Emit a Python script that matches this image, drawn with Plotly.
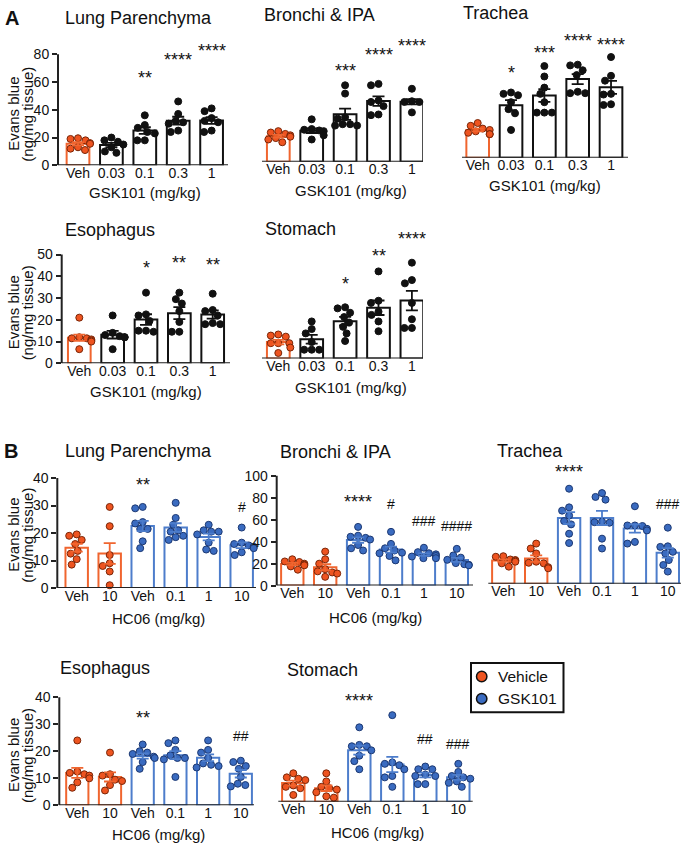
import numpy as np
import plotly.graph_objects as go

PAGE_W, PAGE_H = 685, 852
OFF = 0                      # body margin removed via post_script
W, H = PAGE_W - 2 * OFF, PAGE_H - 2 * OFF
LABEL_LIFT = 2.5             # px: lift category labels closer to the baseline

# ---------------- data ----------------
cats_A = ['Veh', '0.03', '0.1', '0.3', '1']
cats_B = ['Veh', '10', 'Veh', '0.1', '1', '10']
groups_A = ['Vehicle', 'GSK101', 'GSK101', 'GSK101', 'GSK101']
groups_B = ['Vehicle', 'Vehicle', 'GSK101', 'GSK101', 'GSK101', 'GSK101']

A_lung = [[19.5, 19, 18, 16, 15.5, 13, 12, 11],
          [20, 18, 17, 15, 13, 10, 9],
          [36, 29, 27, 24, 23, 18, 18],
          [46, 37, 32, 31, 30, 25, 24],
          [41, 39, 34, 32, 31, 25, 24]]
A_bronchi = [[22, 21, 20, 19, 18, 17, 16, 14],
             [30.5, 23.5, 23, 22.5, 22, 19, 16],
             [55, 49, 32, 31, 27, 26, 26, 27],
             [55, 56, 44, 43, 40, 34, 33.5],
             [52.5, 43.5, 43, 43, 42.5, 42, 35.5]]
A_trachea = [[25, 23, 21, 20, 19, 18, 17, 17],
             [47, 46, 45, 40, 35, 32, 20],
             [66, 58.5, 50.5, 46, 40, 32.5, 32.5, 32.5],
             [67, 66.5, 63, 59.5, 47.5, 46.5, 46.5],
             [72.5, 59, 55.5, 46, 45.5, 38.5, 38]]
A_esophagus = [[21, 12, 11.5, 11.5, 11, 10.5, 10, 6.5],
               [22, 14, 13, 12.5, 12, 12, 6.5],
               [32.5, 22.5, 22, 19.5, 15, 14.5, 15],
               [32.5, 29.5, 27.5, 24, 19, 14.5, 14.5],
               [32, 24.5, 24, 22, 18, 18.5, 18]]
A_stomach = [[10.5, 11, 10, 7, 7, 7, 5, 2.5],
             [17, 13.5, 11.5, 7.5, 4, 4, 4],
             [23.5, 23, 21, 19, 16.5, 14.5, 11.5, 8],
             [40, 26.5, 25.5, 21.5, 20, 17, 12.5],
             [44, 36, 34.5, 25.5, 18, 14, 14]]

B_lung = [[19.5, 19, 17.5, 16, 13.5, 12.5, 10.5, 8.5],
          [29.5, 22.5, 12, 9, 8, 6, 1],
          [29.5, 29, 24, 23.5, 21.5, 21.5, 17, 14.5],
          [31, 25.5, 23, 21, 20.5, 19, 18.5, 17.5],
          [23, 21, 20.5, 20.5, 19.5, 16.5, 14, 13.5],
          [22, 16.5, 16, 15.5, 15, 14.5, 13, 12]]
B_bronchi = [[24, 22, 21.5, 20, 19, 18.5, 17.5, 14.5],
             [31, 24, 20, 15, 13, 12, 11, 8],
             [53.5, 45.5, 44.5, 43.5, 42, 37, 34, 32],
             [49, 38, 34, 32, 30, 29.5, 27, 23],
             [34.5, 30.5, 29.5, 28.5, 27, 26.5, 25, 25],
             [33.5, 27.5, 25.5, 23.5, 20.5, 19.5, 19, 18.5]]
B_trachea = [[25, 24.5, 22, 21.5, 21, 20, 18.5, 15.5],
             [36.5, 32, 27.5, 20, 19, 18.5, 15, 14],
             [86.5, 69.5, 66.5, 62, 57, 54, 45.5, 37],
             [82.5, 79, 76.5, 56.5, 56, 55.5, 41, 32],
             [70.5, 53, 53, 52.5, 50, 48.5, 38, 36.5],
             [51, 34, 33.5, 29, 27.5, 21.5, 17, 11]]
B_esophagus = [[24, 12.5, 12, 11.5, 11, 10, 8.5, 6.5],
               [19.5, 11.5, 11, 9.5, 9, 7.5, 5.5],
               [22.5, 20, 19.5, 19, 18, 17.5, 16, 13.5],
               [24, 23, 20.5, 18.5, 17.5, 17.5, 17, 10.5],
               [24, 20.5, 19.5, 17.5, 15.5, 15, 14.5, 14],
               [16.5, 16, 14.5, 13.5, 10.5, 8, 7.5, 7]]
B_stomach = [[10.5, 9, 8.5, 8, 6, 5.5, 5, 2.5],
             [10.5, 7.5, 5.5, 5, 4.5, 3.5, 2, 1.5],
             [27.5, 21, 20.5, 20.5, 19, 17, 15, 12],
             [32, 14.5, 14, 13.5, 12, 9.5, 9, 5.5],
             [13, 12, 12, 10, 9.5, 9.5, 6.5, 6.5],
             [14, 11, 9.5, 9, 8.5, 7.5, 7, 5.5]]

# significance labels
sig_A_lung = ['', '', '**', '****', '****']
sig_A_bronchi = ['', '', '***', '****', '****']
sig_A_trachea = ['', '*', '***', '****', '****']
sig_A_esophagus = ['', '', '*', '**', '**']
sig_A_stomach = ['', '', '*', '**', '****']
sig_B_lung = ['', '', '**', '', '', '#']
sig_B_bronchi = ['', '', '****', '#', '###', '####']
sig_B_trachea = ['', '', '****', '', '', '###']
sig_B_esophagus = ['', '', '**', '', '', '##']
sig_B_stomach = ['', '', '****', '', '##', '###']

legend_names = ['Vehicle', 'GSK101']
ytitle_lines = ['Evans blue', '(ng/mg tissue)']

# ---------------- layout config (pixel geometry on the page) ----------------
panels = [
    dict(set='A', data=A_lung, cats=cats_A, groups=groups_A, sig=sig_A_lung,
         sig_y=[0, 0, 66, 79, 85], title='Lung Parenchyma', tpos=(138, 12),
         xtitle='GSK101 (mg/kg)', xtpos=(145, 190),
         xa=58, xb=228, c0=78, s=33.4, yb=162, k=113 / 80, top=90,
         yticks=[0, 20, 40, 60, 80]),
    dict(set='A', data=A_bronchi, cats=cats_A, groups=groups_A, sig=sig_A_bronchi,
         sig_y=[0, 0, 68, 80, 86], title='Bronchi & IPA', tpos=(319, 9),
         xtitle='GSK101 (mg/kg)', xtpos=(351, 188),
         xa=262, xb=423, c0=278.3, s=33.4, yb=158.3, k=113 / 80, top=90,
         yticks=None),
    dict(set='A', data=A_trachea, cats=cats_A, groups=groups_A, sig=sig_A_trachea,
         sig_y=[0, 64, 78, 87, 84], title='Trachea', tpos=(496, 7),
         xtitle='GSK101 (mg/kg)', xtpos=(545, 183),
         xa=462, xb=628, c0=477.7, s=33.33, yb=154.3, k=113 / 80, top=92,
         yticks=None),
    dict(set='A', data=A_esophagus, cats=cats_A, groups=groups_A, sig=sig_A_esophagus,
         sig_y=[0, 0, 45.5, 48, 47], title='Esophagus', tpos=(110, 228),
         xtitle='GSK101 (mg/kg)', xtpos=(146, 392),
         xa=61.7, xb=230, c0=79.3, s=33.35, yb=363.3, k=110.6 / 50, top=52,
         yticks=[0, 10, 20, 30, 40, 50]),
    dict(set='A', data=A_stomach, cats=cats_A, groups=groups_A, sig=sig_A_stomach,
         sig_y=[0, 0, 36, 49, 56.5], title='Stomach', tpos=(300, 227),
         xtitle='GSK101 (mg/kg)', xtpos=(351, 388),
         xa=262, xb=423, c0=278.3, s=33.4, yb=358.3, k=110.6 / 50, top=60,
         yticks=None),
    dict(set='B', data=B_lung, cats=cats_B, groups=groups_B, sig=sig_B_lung,
         sig_y=[0, 0, 38.8, 0, 0, 29.3], title='Lung Parenchyma', tpos=(138, 452),
         xtitle='HC06 (mg/kg)', xtpos=(158, 623),
         xa=57.3, xb=256, c0=76.7, s=33, yb=591.7, k=111.7 / 40, top=42,
         yticks=[0, 10, 20, 30, 40]),
    dict(set='B', data=B_bronchi, cats=cats_B, groups=groups_B, sig=sig_B_bronchi,
         sig_y=[0, 0, 80, 74.6, 58.5, 54.6], title='Bronchi & IPA', tpos=(335, 453),
         xtitle='HC06 (mg/kg)', xtpos=(375, 622),
         xa=276.7, xb=473, c0=292.3, s=32.9, yb=589.3, k=111.6 / 100, top=102,
         yticks=[0, 20, 40, 60, 80, 100]),
    dict(set='B', data=B_trachea, cats=cats_B, groups=groups_B, sig=sig_B_trachea,
         sig_y=[0, 0, 105, 0, 0, 72.8], title='Trachea', tpos=(530, 452),
         xtitle=None, xtpos=None,
         xa=488.3, xb=681, c0=503.3, s=32.9, yb=587.3, k=111.6 / 100, top=110,
         yticks=None),
    dict(set='B', data=B_esophagus, cats=cats_B, groups=groups_B, sig=sig_B_esophagus,
         sig_y=[0, 0, 33.7, 0, 0, 25.8], title='Esophagus', tpos=(105, 673),
         xtitle='HC06 (mg/kg)', xtpos=(158, 842),
         xa=59.3, xb=254, c0=77.3, s=32.7, yb=812.7, k=110 / 40, top=42,
         yticks=[0, 10, 20, 30, 40]),
    dict(set='B', data=B_stomach, cats=cats_B, groups=groups_B, sig=sig_B_stomach,
         sig_y=[0, 0, 38.7, 0, 23.3, 21.2], title='Stomach', tpos=(322, 675),
         xtitle='HC06 (mg/kg)', xtpos=(377, 840),
         xa=278.3, xb=472.7, c0=293.3, s=33, yb=809, k=110 / 40, top=42,
         yticks=None),
]

ORANGE_LINE = '#F0652F'
ORANGE_FILL = '#EE5420'
ORANGE_EDGE = '#7A2608'
BLUE_LINE = '#4D7DCB'
BLUE_FILL = '#3A6BC0'
BLUE_EDGE = '#1C3872'
BLACK = '#111111'

STY = {
    ('A', 'Vehicle'): dict(bar=ORANGE_LINE, fill=ORANGE_FILL, edge=ORANGE_EDGE, err=ORANGE_LINE),
    ('A', 'GSK101'): dict(bar=BLACK, fill=BLACK, edge=BLACK, err=BLACK),
    ('B', 'Vehicle'): dict(bar=ORANGE_LINE, fill=ORANGE_FILL, edge=ORANGE_EDGE, err=ORANGE_LINE),
    ('B', 'GSK101'): dict(bar=BLUE_LINE, fill=BLUE_FILL, edge=BLUE_EDGE, err=BLUE_LINE),
}

FONT = 'Liberation Sans, Arial, Helvetica, sans-serif'


def fx(px):
    return min(1.0, max(0.0, (px - OFF) / W))


def fy(py):
    return min(1.0, max(0.0, 1 - (py - OFF) / H))


def swarm(vals, k_px, s_px, d=7.4):
    """Deterministic beeswarm: horizontal offsets (category units) so dots don't overlap."""
    vals = np.asarray(vals, dtype=float)
    order = np.argsort(-vals, kind='stable')
    cands = sorted(np.arange(-12, 12.01, 0.5), key=lambda c: (abs(c), c))
    placed = []
    offs = np.zeros(len(vals))
    for i in order:
        yv = vals[i] * k_px
        chosen = cands[-1]
        for c in cands:
            if all((c - px) ** 2 + (yv - py) ** 2 >= d * d for px, py in placed):
                chosen = c
                break
        placed.append((chosen, yv))
        offs[i] = chosen / s_px
    return offs


fig = go.Figure()
layout = dict(width=W, height=H, margin=dict(l=0, r=0, t=0, b=0),
              paper_bgcolor='white', plot_bgcolor='white',
              font=dict(family=FONT, color='#111', size=14),
              showlegend=False)
annotations = []
shapes = []

for i, p in enumerate(panels):
    xn = 'x' if i == 0 else f'x{i + 1}'
    yn = 'y' if i == 0 else f'y{i + 1}'
    xk = 'xaxis' if i == 0 else f'xaxis{i + 1}'
    yk = 'yaxis' if i == 0 else f'yaxis{i + 1}'
    data = p['data']
    n = len(data)
    pos = list(range(n))
    means = [float(np.mean(v)) for v in data]
    sems = [float(np.std(v, ddof=1) / np.sqrt(len(v))) for v in data]
    sty = [STY[(p['set'], g)] for g in p['groups']]

    fig.add_trace(go.Bar(x=pos, y=means, width=0.68, xaxis=xn, yaxis=yn,
                         marker=dict(color='white', line=dict(color=[s_['bar'] for s_ in sty], width=2)),
                         hoverinfo='skip'))
    for grp in legend_names:
        idx = [j for j in pos if p['groups'][j] == grp]
        if not idx:
            continue
        st = STY[(p['set'], grp)]
        xs, ys = [], []
        for j in idx:
            offs = swarm(data[j], p['k'], p['s'])
            xs += list(j + offs)
            ys += list(data[j])
        fig.add_trace(go.Scatter(x=xs, y=ys, mode='markers', xaxis=xn, yaxis=yn, name=grp,
                                 marker=dict(size=7, color=st['fill'], line=dict(color=st['edge'], width=1)),
                                 hoverinfo='skip', cliponaxis=False))
    for grp in legend_names:
        idx = [j for j in pos if p['groups'][j] == grp]
        if not idx:
            continue
        st = STY[(p['set'], grp)]
        fig.add_trace(go.Scatter(x=idx, y=[means[j] for j in idx], mode='markers', xaxis=xn, yaxis=yn,
                                 marker=dict(size=1, color='rgba(0,0,0,0)'),
                                 error_y=dict(type='data', array=[sems[j] for j in idx],
                                              color=st['err'], thickness=1.8, width=6),
                                 hoverinfo='skip'))

    xa, xb, c0, s = p['xa'], p['xb'], p['c0'], p['s']
    yb, k, top = p['yb'], p['k'], p['top']
    yt = yb - top * k
    # category axis: labels only (floated slightly up); baseline drawn as a shape at y=0
    layout[xk] = dict(domain=[fx(xa), fx(xb)], range=[(xa - c0) / s, (xb - c0) / s],
                      anchor='free', position=fy(yb - LABEL_LIFT), showline=False,
                      ticks='', tickvals=pos, ticktext=p['cats'],
                      tickfont=dict(size=14, color='#111'), showgrid=False, zeroline=False)
    shapes.append(dict(type='line', xref=f'{xn} domain', x0=0, x1=1, yref=yn, y0=0, y1=0,
                       line=dict(color='#222', width=2)))
    ydict = dict(domain=[fy(yb), fy(yt)], range=[0, top], anchor=xn,
                 showline=False, showgrid=False, zeroline=False)
    if p['yticks']:
        ydict.update(ticks='outside', tickvals=p['yticks'], ticklen=5, tickwidth=1.8,
                     tickcolor='#222', tickfont=dict(size=14, color='#111'))
        shapes.append(dict(type='line', xref=f'{xn} domain', x0=0, x1=0, yref=yn,
                           y0=0, y1=max(p['yticks']), line=dict(color='#222', width=2)))
    else:
        ydict.update(showticklabels=False, ticks='')
    layout[yk] = ydict

    # significance marks
    for j, lab in enumerate(p['sig']):
        if lab:
            annotations.append(dict(x=j, y=p['sig_y'][j], xref=xn, yref=yn, text=lab,
                                    showarrow=False, xanchor='center', yanchor='middle',
                                    yshift=-4 if '*' in lab else 0,
                                    font=dict(size=18 if '*' in lab else 14, color='#111')))
    # panel title
    annotations.append(dict(x=fx(p['tpos'][0]), y=fy(p['tpos'][1]), xref='paper', yref='paper',
                            xanchor='center', yanchor='middle',
                            text=p['title'], showarrow=False, font=dict(size=18, color='#111')))
    if p['xtitle']:
        annotations.append(dict(x=fx(p['xtpos'][0]), y=fy(p['xtpos'][1]), xref='paper', yref='paper',
                                xanchor='center', yanchor='middle',
                                text=p['xtitle'], showarrow=False, font=dict(size=15, color='#111')))

# y-axis titles (two rotated lines)
for yc in [110, 312, 538, 762]:
    for line_txt, lx in zip(ytitle_lines, [13.5, 27.5]):
        annotations.append(dict(x=fx(lx), y=fy(yc), xref='paper', yref='paper',
                                xanchor='center', yanchor='middle',
                                text=line_txt, textangle=-90, showarrow=False,
                                font=dict(size=15, color='#111')))
# panel letters
for lab, (px, py) in [('A', (12, 12)), ('B', (11, 452))]:
    annotations.append(dict(x=fx(px), y=fy(py), xref='paper', yref='paper',
                            xanchor='center', yanchor='middle',
                            text=f'<b>{lab}</b>', showarrow=False, font=dict(size=20, color='#111')))

# legend box (drawn as layout items)
shapes.append(dict(type='rect', xref='paper', yref='paper', x0=fx(471), x1=fx(563.5),
                   y0=fy(718), y1=fy(668), line=dict(color='#111', width=2), fillcolor='white'))
for name, col, cy in [(legend_names[0], ORANGE_FILL, 681.7), (legend_names[1], BLUE_FILL, 704.3)]:
    shapes.append(dict(type='circle', xref='paper', yref='paper', xsizemode='pixel', ysizemode='pixel',
                       xanchor=fx(481.7), yanchor=fy(cy), x0=-5.2, x1=5.2, y0=-5.2, y1=5.2,
                       fillcolor=col, line=dict(color='#111', width=1.5)))
    annotations.append(dict(x=fx(496), y=fy(cy), xref='paper', yref='paper', xanchor='left',
                            yanchor='middle', text=name, showarrow=False,
                            font=dict(size=15.5, color='#111')))

layout['annotations'] = annotations
layout['shapes'] = shapes
fig.update_layout(**layout)

fig.write_html('out.html', config={'displayModeBar': False},
               post_script="document.body.style.margin='0';document.body.style.overflow='hidden';")
